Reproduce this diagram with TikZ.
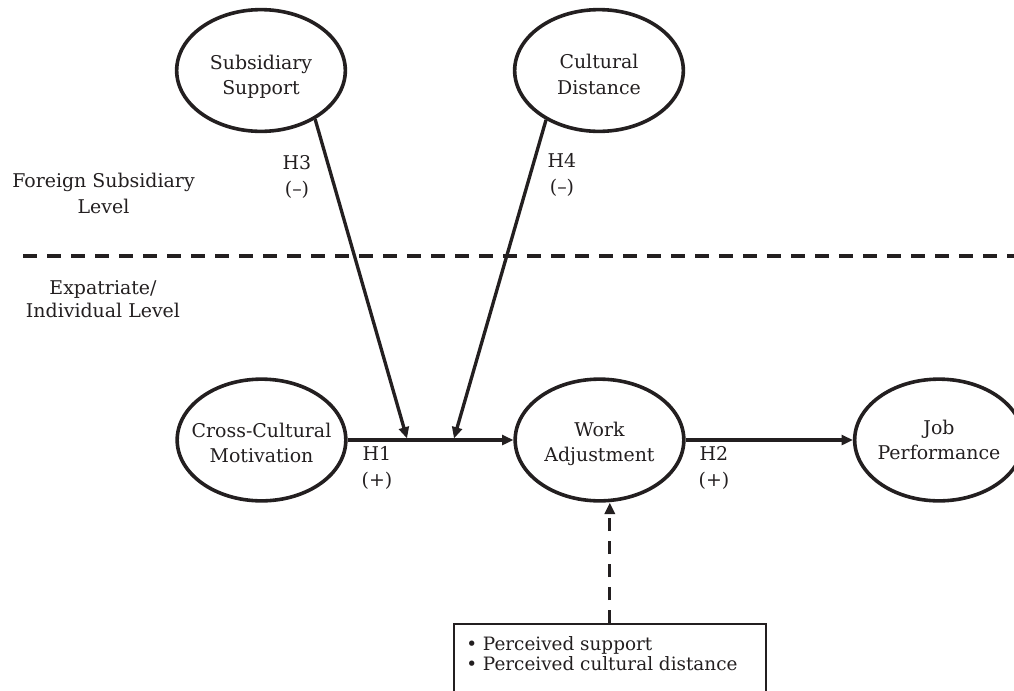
\documentclass[tikz,border=0pt]{standalone}
\usepackage{fontspec}
\setmainfont{DejaVu Serif}
\usetikzlibrary{arrows.meta,shapes.geometric}
\definecolor{ink}{HTML}{231F20}
\begin{document}
\begin{tikzpicture}[x=0.75pt,y=-0.75pt,
  txt/.style={text=ink, font=\fontsize{14.2}{19}\selectfont, align=center, inner sep=0pt},
  construct/.style={ellipse, draw=ink, line width=2.7pt, minimum width=126.5pt, minimum height=91.3pt, inner sep=0pt},
  arr/.style={draw=ink, line width=2.5pt, -{Triangle[length=8.5pt,width=7.5pt]}},
  darr/.style={draw=ink, line width=2.5pt, dash pattern=on 9.75pt off 7.5pt, -{Triangle[length=8.5pt,width=7.5pt]}},
  divider/.style={draw=ink, line width=2.8pt, dash pattern=on 10.5pt off 7.5pt},
  boxstyle/.style={draw=ink, line width=1.2pt, rectangle, minimum width=234pt, minimum height=120pt, inner sep=0pt, anchor=north west},
  boxline/.style={text=ink, font=\fontsize{13.8}{16}\selectfont, inner sep=0pt, anchor=base west}
]
\useasboundingbox (0,0) rectangle (1014,690);

% constructs
\node[construct, label={[txt, yshift=-4.5pt]center:Subsidiary\\Support}] (ss) at (261,70.5) {};
\node[construct, label={[txt, yshift=-3pt]center:Cultural\\Distance}] (cd) at (599,70.5) {};
\node[construct, label={[txt, yshift=-2.2pt]center:Cross-Cultural\\Motivation}] (cc) at (261.5,440) {};
\node[construct, label={[txt, yshift=-3pt]center:Work\\Adjustment}] (wa) at (599.5,440) {};
\node[construct, label={[txt]center:Job\\Performance}] (jp) at (939,440) {};

% level divider
\coordinate (dl) at (23,256);
\coordinate (dr) at (1030,256);
\draw[divider] (dl) -- (dr);

% level labels
\node[txt, font=\fontsize{14.2}{19.5}\selectfont] (lvl1) at (103.5,193) {Foreign Subsidiary\\Level};
\node[txt, font=\fontsize{14.2}{17.5}\selectfont] (lvl2) at (103,299) {Expatriate/\\Individual Level};

% main paths
\draw[arr] (cc.east) -- (wa.west);
\draw[arr] (wa.east) -- (jp.west);

% moderators
\coordinate (m3) at (407,438.5);
\coordinate (m4) at (454,438.5);
\draw[arr] (ss.-42.5) -- (m3);
\draw[arr] (cd.-137) -- (m4);

% hypothesis labels
\node[txt] (h3) at (297,177) {H3\\(–)};
\node[txt] (h4) at (562,175) {H4\\(–)};
\node[txt] (h1) at (377,468) {H1\\(+)};
\node[txt] (h2) at (714,468) {H2\\(+)};

% perceived box
\node[boxstyle] (box) at (453,623) {};
\node[boxline] (b1) at (466,650) {• Perceived support};
\node[boxline] (b2) at (466,670) {• Perceived cultural distance};
\draw[darr] (box.north) -- (box.north |- wa.south);
\end{tikzpicture}
\end{document}
